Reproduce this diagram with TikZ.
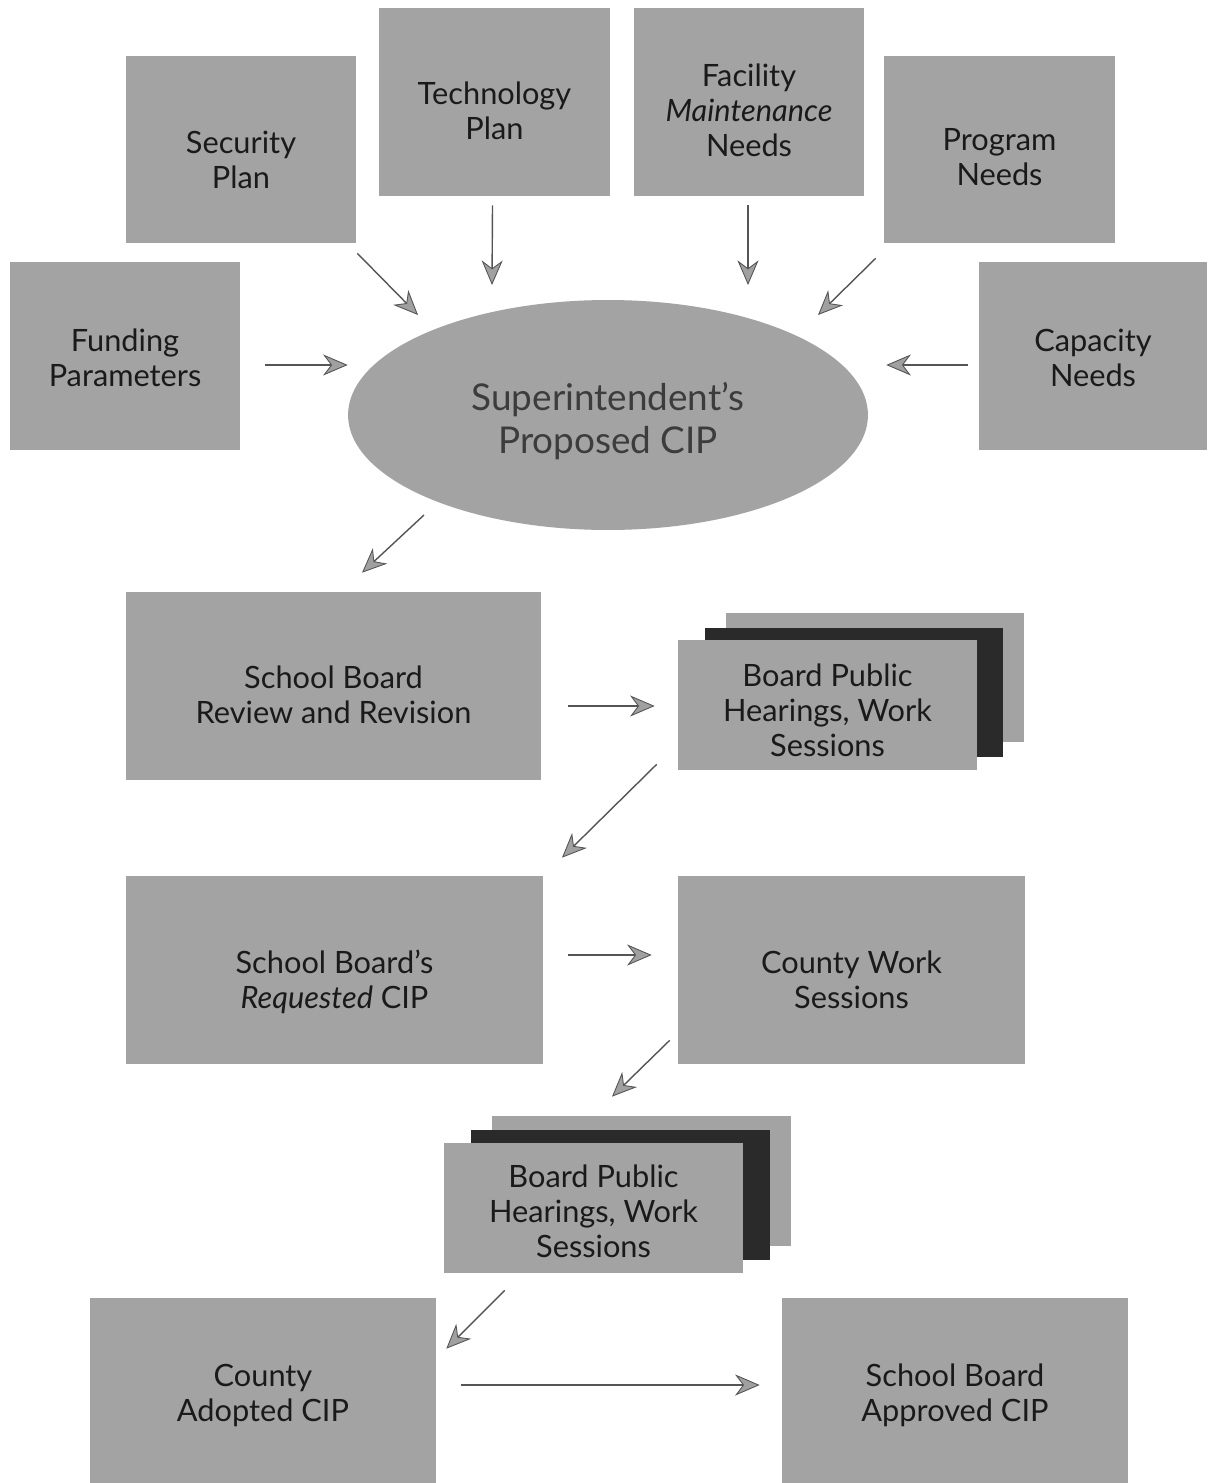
\documentclass[tikz,border=0pt]{standalone}
\usepackage{fontspec}
\setmainfont{Lato}
\usetikzlibrary{arrows.meta,shapes.geometric}
\definecolor{boxgray}{HTML}{A3A3A3}
\definecolor{darkbox}{HTML}{2A2A2A}
\definecolor{headgray}{HTML}{A0A0A0}
\definecolor{linegray}{HTML}{555555}
\definecolor{txt}{HTML}{1A1A1A}
\begin{document}
\begin{tikzpicture}[x=0.02cm,y=-0.02cm,
  box/.style={fill=boxgray, draw=none, inner sep=0pt},
  lab/.style={align=center, inner sep=0pt, text=txt, shift={(0,#1)},
    font=\fontsize{17.5}{20}\selectfont},
  sheet/.style={fill=#1, draw=none, minimum width=5.98cm, minimum height=2.6cm, inner sep=0pt},
  arr/.style={draw=linegray, line width=0.8pt,
    -{Stealth[length=14pt,width=12pt,inset=4.5pt,fill=headgray,line width=0.5pt]}}
]
\useasboundingbox[fill=white] (0,0) rectangle (1207,1483);

% top inputs
\node[box, minimum width=4.6cm, minimum height=3.74cm,
  label={[lab=10]center:{Security\\Plan}}] (sec) at (241,149.5) {};
\node[box, minimum width=4.62cm, minimum height=3.76cm,
  label={[lab=9]center:{Technology\\Plan}}] (tech) at (494.5,102) {};
\node[box, minimum width=4.6cm, minimum height=3.76cm,
  label={[lab=8]center:{Facility\\\textit{Maintenance}\\Needs}}] (fac) at (749,102) {};
\node[box, minimum width=4.62cm, minimum height=3.74cm,
  label={[lab=8]center:{Program\\Needs}}] (prog) at (999.5,149.5) {};
\node[box, minimum width=4.6cm, minimum height=3.76cm,
  label={[lab=2]center:{Funding\\Parameters}}] (fund) at (125,356) {};
\node[box, minimum width=4.56cm, minimum height=3.76cm,
  label={[lab=2]center:{Capacity\\Needs}}] (cap) at (1093,356) {};

% ellipse
\node[ellipse, fill=boxgray, draw=none, inner sep=0pt, minimum width=10.4cm, minimum height=4.6cm,
  label={[lab=6, text=txt!85!white, font=\fontsize{21}{24}\selectfont]center:{Superintendent’s\\Proposed CIP}}]
  (ell) at (608,415) {};

% review
\node[box, minimum width=8.3cm, minimum height=3.76cm,
  label={[lab=9]center:{School Board\\Review and Revision}}] (rev) at (333.5,686) {};

% stack 1
\node[sheet=boxgray] (st1b) at (875,677.5) {};
\node[sheet=darkbox] (st1d) at (854,692.5) {};
\node[box, minimum width=5.98cm, minimum height=2.6cm,
  label={[lab=5]center:{Board Public\\Hearings, Work\\Sessions}}] (st1) at (827.5,705) {};

% requested
\node[box, minimum width=8.34cm, minimum height=3.76cm,
  label={[lab=12]center:{School Board’s\\\textit{Requested} CIP}}] (req) at (334.5,970) {};
\node[box, minimum width=6.94cm, minimum height=3.76cm,
  label={[lab=10]center:{County Work\\Sessions}}] (cws) at (851.5,970) {};

% stack 2
\node[sheet=boxgray] (st2b) at (641.5,1180.5) {};
\node[sheet=darkbox] (st2d) at (620.5,1195) {};
\node[box, minimum width=5.98cm, minimum height=2.6cm,
  label={[lab=3]center:{Board Public\\Hearings, Work\\Sessions}}] (st2) at (593.5,1208) {};

% final
\node[box, minimum width=6.92cm, minimum height=3.7cm,
  label={[lab=5]center:{County\\Adopted CIP}}] (cad) at (263,1390.5) {};
\node[box, minimum width=6.92cm, minimum height=3.7cm,
  label={[lab=5]center:{School Board\\Approved CIP}}] (sba) at (955,1390.5) {};

% connectors
\draw[arr] ([shift={(1,10)}]sec.south east) -- ([shift={(-190,-100)}]ell.center);
\draw[arr] ([shift={(-2,9)}]tech.south) -- ([shift={(-116,-130)}]ell.center);
\draw[arr] ([shift={(-1,9)}]fac.south) -- ([shift={(140,-130)}]ell.center);
\draw[arr] ([shift={(-8,15)}]prog.south west) -- ([shift={(210,-100)}]ell.center);
\draw[arr] ([shift={(25,9)}]fund.east) -- ([shift={(0,-50)}]ell.west);
\draw[arr] ([shift={(-11,9)}]cap.west) -- ([shift={(18,-50)}]ell.east);
\draw[arr] ([shift={(-184,100)}]ell.center) -- ([shift={(28.5,-19)}]rev.north);
\draw[arr] ([shift={(27,20)}]rev.east) -- ([shift={(-23,1)}]st1.west);
\draw[arr] ([shift={(-21,-6)}]st1.south west) -- ([shift={(227.5,-18)}]req.north);
\draw[arr] ([shift={(25,-15)}]req.east) -- ([shift={(-26,-15)}]cws.west);
\draw[arr] ([shift={(-8,-24)}]cws.south west) -- ([shift={(18.5,-46)}]st2.north);
\draw[arr] ([shift={(61,17)}]st2.south west) -- ([shift={(10,51)}]cad.north east);
\draw[arr] ([shift={(25,-5.5)}]cad.east) -- ([shift={(-22,-5.5)}]sba.west);
\end{tikzpicture}
\end{document}
